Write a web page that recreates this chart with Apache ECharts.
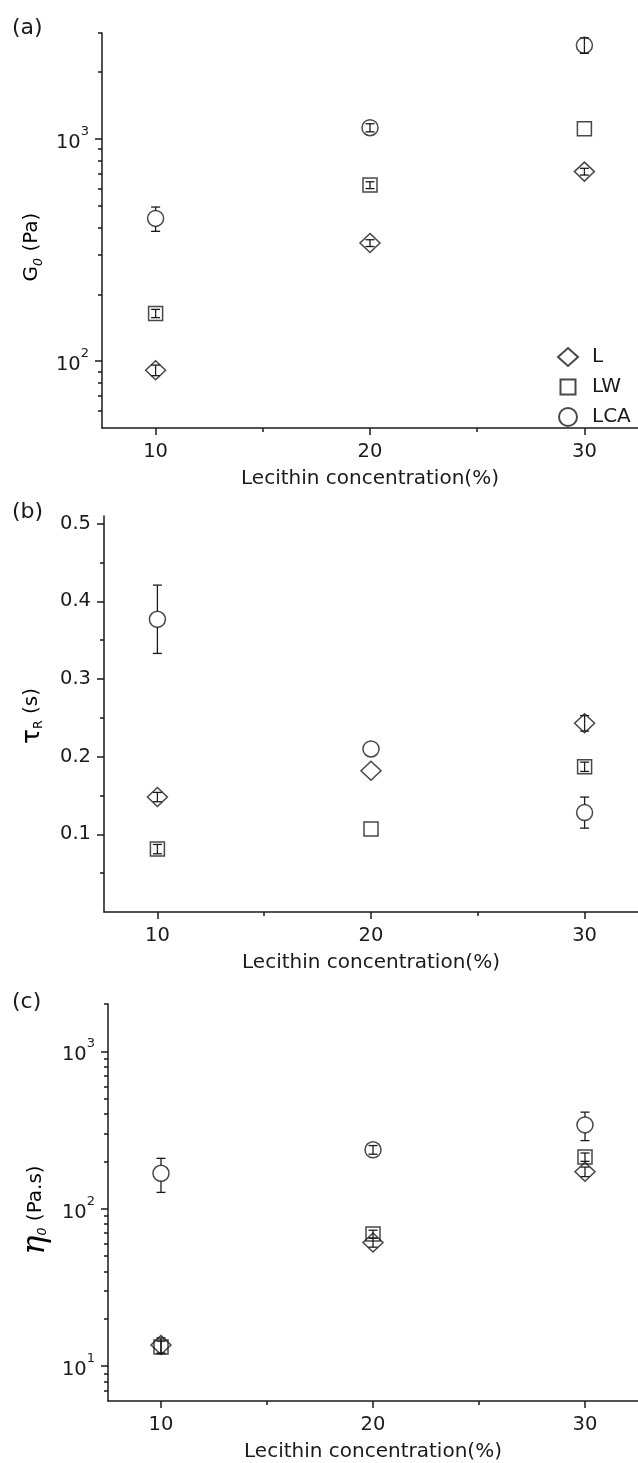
<!DOCTYPE html>
<html>
<head>
<meta charset="utf-8">
<script src="https://cdn.jsdelivr.net/npm/echarts@6.0.0/dist/echarts.min.js"></script>
<style>
  html, body { margin: 0; padding: 0; background: #fff; }
  #chart { width: 638px; height: 1463px; }
</style>
</head>
<body>
<div id="chart"></div>
<script>
// lecithin concentration (%)
const conc = [10, 20, 30];

// (a) G0 (Pa)
const g0L = [91, 340, 713];
const g0LErr = [5, 12, 25];
const g0LW = [164, 620, 1112];
const g0LWErr = [7, 22, 0];
const g0LCA = [439, 1124, 2640];
const g0LCAErr = [55, 47, 210];

// (b) tau_R (s)
const tauL = [0.148, 0.182, 0.243];
const tauLErr = [0.006, 0, 0.01];
const tauLW = [0.081, 0.107, 0.187];
const tauLWErr = [0.006, 0, 0.006];
const tauLCA = [0.377, 0.21, 0.128];
const tauLCAErr = [0.044, 0, 0.02];

// (c) eta0 (Pa.s)
const etaL = [13.6, 61, 172];
const etaLErr = [1.5, 4, 12];
const etaLW = [13.2, 69, 213];
const etaLWErr = [1.2, 4, 13];
const etaLCA = [168, 237, 341];
const etaLCAErr = [41, 15, 70];

// ticks
const xMajorTicks = [10, 20, 30];
const xMinorTicks = [15, 25];
const g0Labels = [100, 1000];
const g0Minor = [60, 70, 80, 90, 200, 300, 400, 500, 600, 700, 800, 900, 2000, 3000];
const tauLabels = [0.1, 0.2, 0.3, 0.4, 0.5];
const tauMinor = [0.05, 0.15, 0.25, 0.35, 0.45];
const etaLabels = [10, 100, 1000];
const etaMinor = [7, 8, 9, 20, 30, 40, 50, 60, 70, 80, 90, 200, 300, 400, 500, 600, 700, 800, 900, 2000];

const FONT = 'DejaVu Sans';
const INK = '#1a1a1a';
const lineStyle = { color: INK, width: 1.5 };
const tickFont = 19.5;

// 10 with raised exponent
function powLabel(v) {
    return '{b|10}{s|' + Math.round(Math.log10(v)) + '}';
}
const powRich = {
    b: { fontSize: tickFont, fontFamily: FONT, color: INK, lineHeight: 28, verticalAlign: 'bottom' },
    s: { fontSize: 13, fontFamily: FONT, color: INK, lineHeight: 14, verticalAlign: 'top' }
};

const grids = [
    { left: 102, top: 33, width: 536, height: 395 },
    { left: 104, top: 516, width: 535, height: 396 },
    { left: 108, top: 1004, width: 535, height: 397 }
];

function xAxes(gi) {
    return [{
        type: 'value', gridIndex: gi, min: 7.5, max: 32.5, position: 'bottom',
        axisLine: { show: true, onZero: false, lineStyle },
        axisTick: { show: true, length: 7, customValues: xMajorTicks, lineStyle },
        axisLabel: { customValues: xMajorTicks, margin: 14, fontSize: tickFont, fontFamily: FONT, color: INK },
        splitLine: { show: false },
        name: 'Lecithin concentration(%)', nameLocation: 'middle', nameGap: 41,
        nameTextStyle: { fontSize: 20, fontFamily: FONT, color: INK }
    }, {
        type: 'value', gridIndex: gi, min: 7.5, max: 32.5, position: 'bottom',
        axisLine: { show: false, onZero: false },
        axisTick: { show: true, length: 4, customValues: xMinorTicks, lineStyle },
        axisLabel: { show: false },
        splitLine: { show: false }
    }];
}

function yAxes(gi, type, min, max, labels, minor, fmt, rich) {
    return [{
        type, gridIndex: gi, min, max, position: 'left',
        axisLine: { show: true, onZero: false, lineStyle },
        axisTick: { show: true, length: 7, customValues: labels, lineStyle },
        axisLabel: { customValues: labels, margin: 13, fontSize: tickFont, fontFamily: FONT, color: INK, formatter: fmt, rich },
        splitLine: { show: false }
    }, {
        type, gridIndex: gi, min, max, position: 'left',
        axisLine: { show: false, onZero: false },
        axisTick: { show: true, length: 4, customValues: minor, lineStyle },
        axisLabel: { show: false },
        splitLine: { show: false }
    }];
}

const markers = {
    L: { symbol: 'diamond', size: [20, 19], half: 9.5 },
    LW: { symbol: 'rect', size: [14, 14], half: 7 },
    LCA: { symbol: 'circle', size: [16, 16], half: 8 }
};

function scatter(name, gi, ys) {
    const m = markers[name];
    return {
        type: 'scatter', name, xAxisIndex: gi * 2, yAxisIndex: gi * 2,
        data: conc.map((x, i) => [x, ys[i]]),
        symbol: m.symbol, symbolSize: m.size,
        itemStyle: { color: 'transparent', borderColor: INK, borderWidth: 1.5 },
        z: 3, silent: true
    };
}

function errorBars(name, gi, ys, errs) {
    const half = markers[name].half;
    return {
        type: 'custom', name: name + '-err', xAxisIndex: gi * 2, yAxisIndex: gi * 2,
        data: conc.map((x, i) => [x, ys[i], errs[i]]),
        encode: { x: 0, y: 1 },
        silent: true, z: 4,
        renderItem(params, api) {
            const x = api.value(0), y = api.value(1), e = api.value(2);
            if (!e) return { type: 'group', children: [] };
            const c = api.coord([x, y]);
            const t = api.coord([x, y + e]);
            const b = api.coord([x, y - e]);
            const w = 4.5;
            const style = { stroke: INK, lineWidth: 1.3, fill: null };
            const topEnd = (c[1] - t[1]) > half ? c[1] - half : c[1];
            const botEnd = (b[1] - c[1]) > half ? c[1] + half : c[1];
            return {
                type: 'group',
                children: [
                    { type: 'line', shape: { x1: c[0] - w, y1: t[1], x2: c[0] + w, y2: t[1] }, style },
                    { type: 'line', shape: { x1: c[0] - w, y1: b[1], x2: c[0] + w, y2: b[1] }, style },
                    { type: 'line', shape: { x1: c[0], y1: t[1], x2: c[0], y2: topEnd }, style },
                    { type: 'line', shape: { x1: c[0], y1: b[1], x2: c[0], y2: botEnd }, style }
                ]
            };
        }
    };
}

const panels = [
    { L: [g0L, g0LErr], LW: [g0LW, g0LWErr], LCA: [g0LCA, g0LCAErr] },
    { L: [tauL, tauLErr], LW: [tauLW, tauLWErr], LCA: [tauLCA, tauLCAErr] },
    { L: [etaL, etaLErr], LW: [etaLW, etaLWErr], LCA: [etaLCA, etaLCAErr] }
];

const series = [];
panels.forEach((p, gi) => {
    ['L', 'LW', 'LCA'].forEach(name => {
        series.push(scatter(name, gi, p[name][0]));
        series.push(errorBars(name, gi, p[name][0], p[name][1]));
    });
});

const nameRich = {
    n: { fontSize: 20, fontFamily: FONT, color: INK, lineHeight: 26 },
    tau: { fontSize: 25, fontFamily: FONT, color: INK, lineHeight: 26 },
    eta: { fontSize: 32, fontFamily: 'DejaVu Serif', fontStyle: 'italic', color: INK, lineHeight: 26 },
    sub: { fontSize: 12.5, fontFamily: FONT, fontStyle: 'italic', color: INK, lineHeight: 16, verticalAlign: 'bottom' },
    subR: { fontSize: 12.5, fontFamily: FONT, color: INK, lineHeight: 16, verticalAlign: 'bottom' }
};

function rotName(x, y, text) {
    return {
        type: 'text', x, y, rotation: Math.PI / 2,
        style: { text, rich: nameRich, align: 'center', verticalAlign: 'middle' }
    };
}

function panelTag(x, y, text) {
    return {
        type: 'text', x, y,
        style: { text, fontSize: 22, fontFamily: FONT, fill: INK, verticalAlign: 'middle' }
    };
}

const option = {
    backgroundColor: '#fff',
    animation: false,
    grid: grids,
    xAxis: [...xAxes(0), ...xAxes(1), ...xAxes(2)],
    yAxis: [
        ...yAxes(0, 'log', 50, 3000, g0Labels, g0Minor, powLabel, powRich),
        ...yAxes(1, 'value', 0, 0.51, tauLabels, tauMinor, v => v.toFixed(1)),
        ...yAxes(2, 'log', 6, 2000, etaLabels, etaMinor, powLabel, powRich)
    ],
    legend: {
        orient: 'vertical', left: 557, top: 347,
        itemWidth: 20, itemHeight: 18, itemGap: 10, padding: 0,
        textStyle: { fontSize: 20, fontFamily: FONT, color: INK, padding: [0, 0, 0, 9] },
        selectedMode: false,
        data: [
            { name: 'L', icon: 'diamond' },
            { name: 'LW', icon: 'path://M0,0M20,18M2.5,1.5H17.5V16.5H2.5Z' },
            { name: 'LCA', icon: 'circle' }
        ]
    },
    graphic: [
        panelTag(12, 28, '(a)'),
        panelTag(12, 512, '(b)'),
        panelTag(12, 1002, '(c)'),
        rotName(32, 247, '{n|G}{sub|0}{n| (Pa)}'),
        rotName(32, 716, '{tau|\u03c4}{subR|R}{n| (s)}'),
        rotName(36, 1210, '{eta|\u03b7}{sub|0}{n| (Pa.s)}')
    ],
    series
};

const myChart = echarts.init(document.getElementById('chart'), null, { renderer: 'canvas' });
myChart.setOption(option);
</script>
</body>
</html>
